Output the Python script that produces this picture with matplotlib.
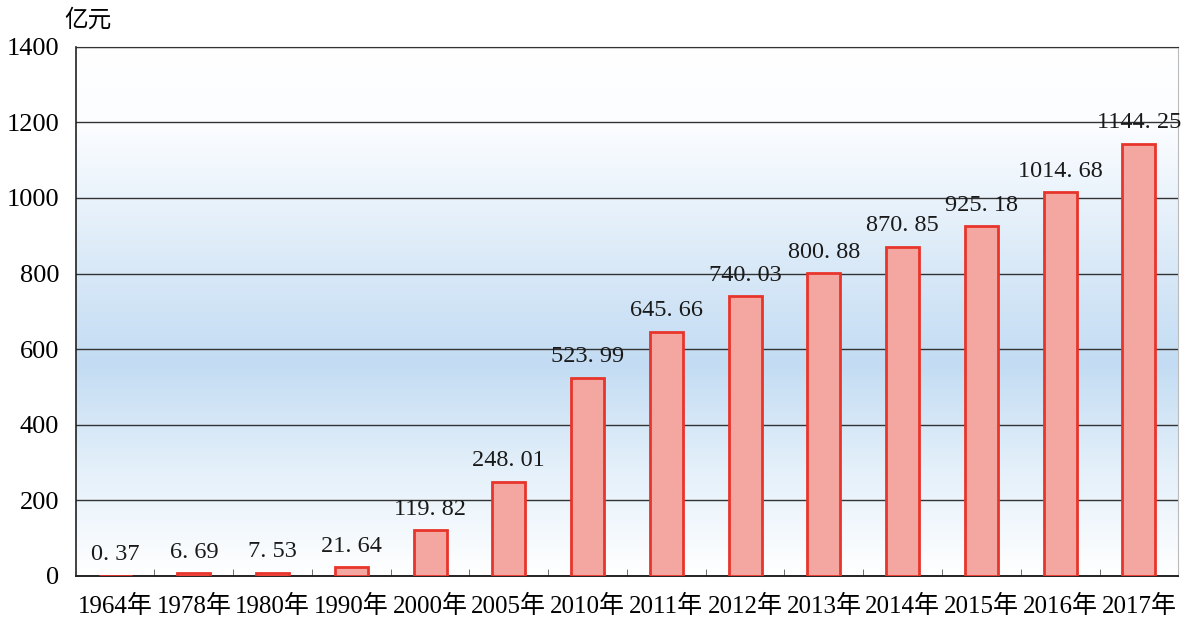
import numpy as np
import matplotlib
matplotlib.use("Agg")
import matplotlib.pyplot as plt
from matplotlib.colors import LinearSegmentedColormap

years = ["1964", "1978", "1980", "1990", "2000", "2005", "2010", "2011",
         "2012", "2013", "2014", "2015", "2016", "2017"]
values = [0.37, 6.69, 7.53, 21.64, 119.82, 248.01, 523.99, 645.66,
          740.03, 800.88, 870.85, 925.18, 1014.68, 1144.25]
y_ticks = [0, 200, 400, 600, 800, 1000, 1200, 1400]
unit_label = "亿元"

FONT = ["Liberation Serif", "Noto Sans CJK SC"]
plt.rcParams['font.family'] = FONT

fig = plt.figure(figsize=(11.83, 6.34), dpi=100)
ax = fig.add_axes([0.064, 0.092, 0.932, 0.834])

n = len(years)
x = np.arange(n)
ax.set_xlim(-0.5, n - 0.5)
ax.set_ylim(0, 1400)

# background gradient (white -> light blue -> white), top to bottom
cmap = LinearSegmentedColormap.from_list(
    "bg", [(0.0, "#ffffff"), (0.15, "#fbfdff"), (0.4, "#dbeaf8"),
           (0.6, "#c3dcf3"), (0.8, "#e4f0fa"), (1.0, "#ffffff")])
grad = np.linspace(0, 1, 256).reshape(-1, 1)
ax.imshow(grad, cmap=cmap, aspect="auto", extent=[-0.5, n - 0.5, 0, 1400],
          origin="upper", zorder=0)

for yv in y_ticks[1:]:
    ax.axhline(yv, color="#333333", lw=1.0, zorder=1)

ax.bar(x, values, width=0.42, color="#f3a7a0", edgecolor="#e8352b",
       linewidth=2.0, zorder=3)

for xi, v in zip(x, values):
    ax.text(xi, v + 28, f"{v:.2f}".replace(".", ". "), ha="center", va="bottom",
            fontsize=17.5, color="#1a1a1a", zorder=4)

ax.set_xticks(x)
ax.set_xticklabels([y + "年" for y in years], fontsize=18)
ax.set_xticks(np.arange(n - 1) + 0.5, minor=True)
ax.tick_params(axis="x", which="major", length=0, pad=14)
ax.tick_params(axis="x", which="minor", direction="in", length=5,
               color="#555555")
ax.set_yticks(y_ticks)
ax.set_yticklabels([str(t) for t in y_ticks], fontsize=19)
ax.tick_params(axis="y", length=0, pad=12)

ax.spines["left"].set_color("#222222")
ax.spines["bottom"].set_color("#222222")
ax.spines["top"].set_color("#333333")
ax.spines["right"].set_color("#bbbbbb")
ax.spines["left"].set_linewidth(1.2)
ax.spines["bottom"].set_linewidth(1.4)

fig.text(0.074, 0.968, unit_label, fontsize=17, ha="center", va="center",
         family=["Noto Sans CJK SC"])

fig.savefig("out.png", dpi=100)
